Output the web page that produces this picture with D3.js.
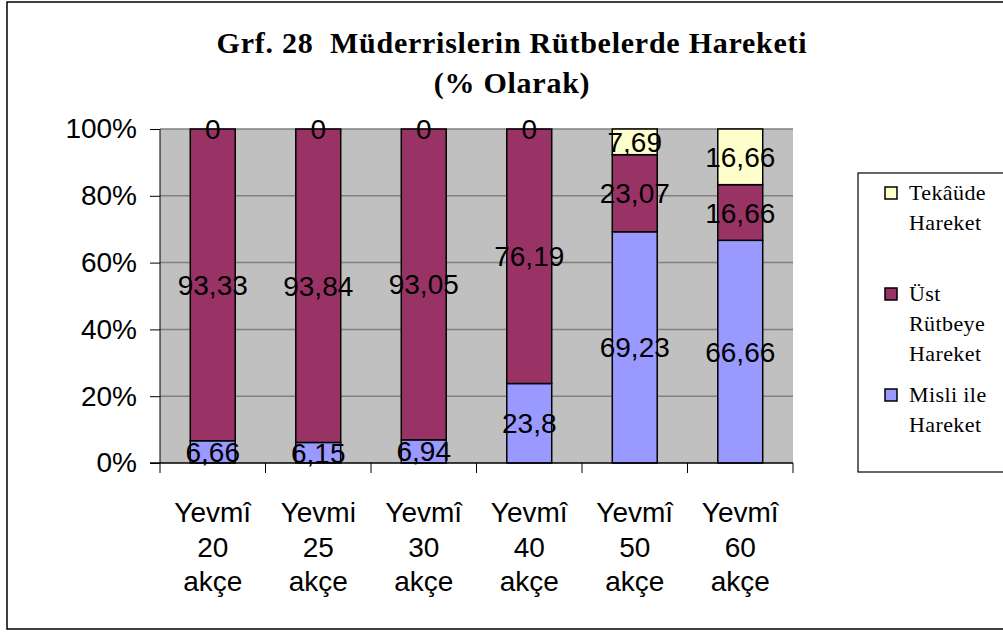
<!DOCTYPE html>
<html>
<head>
<meta charset="utf-8">
<script src="https://cdn.jsdelivr.net/npm/d3@7"></script>
<style>
  body { margin: 0; background: #fff; }
  svg { display: block; }
</style>
</head>
<body>
<script>
// data
const categories = ['Yevmî 20 akçe', 'Yevmi 25 akçe', 'Yevmî 30 akçe', 'Yevmî 40 akçe', 'Yevmî 50 akçe', 'Yevmî 60 akçe']
const misli = [6.66, 6.15, 6.94, 23.8, 69.23, 66.66]
const ust = [93.33, 93.84, 93.05, 76.19, 23.07, 16.66]
const tekaude = [0, 0, 0, 0, 7.69, 16.66]
const yTicks = [0, 20, 40, 60, 80, 100]

const seriesNames = ['Misli ile Hareket', 'Üst Rütbeye Hareket', 'Tekâüde Hareket']
const colors = ['#9999FF', '#993366', '#FFFFCC']

const WIDTH = 1003
const HEIGHT = 634
const PLOT = { left: 160, right: 793, top: 129, bottom: 463 }
const SANS = 'Liberation Sans, Arial, sans-serif'
const SERIF = 'Liberation Serif, Times New Roman, serif'

const svg = d3.select('body').append('svg').attr('width', WIDTH).attr('height', HEIGHT)

// cadre exterieur
svg.append('rect')
  .attr('x', 7).attr('y', 2).attr('width', 1010).attr('height', 627)
  .attr('fill', '#fff').attr('stroke', '#000').attr('stroke-width', 1.5)

// titre
const title = svg.append('text')
  .attr('text-anchor', 'middle')
  .attr('font-family', SERIF)
  .attr('font-weight', 'bold')
  .attr('font-size', 30)
  .attr('letter-spacing', 0.75)
  .style('white-space', 'pre')
title.append('tspan').attr('x', 512).attr('y', 53).text('Grf. 28  Müderrislerin Rütbelerde Hareketi')
title.append('tspan').attr('x', 512).attr('y', 93).text('(% Olarak)')

// table pour le stack (normalise a 100%)
const table = categories.map((c, i) => {
  const tot = misli[i] + ust[i] + tekaude[i]
  return { cat: c, vals: [misli[i], ust[i], tekaude[i]], m: misli[i] / tot * 100, u: ust[i] / tot * 100, t: tekaude[i] / tot * 100 }
})
const stacked = d3.stack().keys(['m', 'u', 't'])(table)

const x = d3.scaleBand().domain(categories).range([PLOT.left, PLOT.right]).paddingInner(0.574).paddingOuter(0.287)
const y = d3.scaleLinear().domain([0, 100]).range([PLOT.bottom, PLOT.top])

// fond gris
svg.append('rect')
  .attr('x', PLOT.left).attr('y', PLOT.top)
  .attr('width', PLOT.right - PLOT.left).attr('height', PLOT.bottom - PLOT.top)
  .attr('fill', '#C0C0C0')

// grille
svg.append('g').selectAll('line')
  .data(yTicks.filter(d => d > 0))
  .enter().append('line')
  .attr('x1', PLOT.left).attr('x2', PLOT.right)
  .attr('y1', d => y(d)).attr('y2', d => y(d))
  .attr('stroke', '#808080').attr('stroke-width', 1.5)

// batons
stacked.forEach((s, si) => {
  svg.append('g').selectAll('rect')
    .data(s)
    .enter().append('rect')
    .attr('x', d => x(d.data.cat))
    .attr('width', x.bandwidth())
    .attr('y', d => y(d[1]))
    .attr('height', d => y(d[0]) - y(d[1]))
    .attr('fill', colors[si])
    .attr('stroke', '#000')
    .attr('stroke-width', 1.5)
})

// etiquettes de valeur
stacked.forEach((s, si) => {
  svg.append('g').selectAll('text')
    .data(s)
    .enter().append('text')
    .attr('x', d => x(d.data.cat) + x.bandwidth() / 2)
    .attr('y', d => y((d[0] + d[1]) / 2))
    .attr('dy', '0.36em')
    .attr('text-anchor', 'middle')
    .attr('font-family', SANS)
    .attr('font-size', 28)
    .text(d => String(d.data.vals[si]).replace('.', ','))
})

// axe Y
const axisY = d3.axisLeft(y).tickValues(yTicks).tickFormat(d => d + '%').tickSize(10).tickPadding(13)
const gy = svg.append('g').attr('transform', `translate(${PLOT.left},0)`).call(axisY)
gy.selectAll('text').attr('font-family', SANS).attr('font-size', 28).attr('fill', '#000')
gy.selectAll('line').attr('stroke', '#000')
gy.select('.domain').attr('stroke', '#000').attr('d', `M0,${PLOT.top}V${PLOT.bottom}`)

// axe X
svg.append('line')
  .attr('x1', PLOT.left - 10).attr('x2', PLOT.right)
  .attr('y1', PLOT.bottom).attr('y2', PLOT.bottom)
  .attr('stroke', '#000').attr('stroke-width', 1.5)
const step = x.step()
svg.append('g').selectAll('line')
  .data(d3.range(categories.length + 1))
  .enter().append('line')
  .attr('x1', i => PLOT.left + i * step).attr('x2', i => PLOT.left + i * step)
  .attr('y1', PLOT.bottom).attr('y2', PLOT.bottom + 10)
  .attr('stroke', '#000')

const xl = svg.append('g').selectAll('text')
  .data(categories)
  .enter().append('text')
  .attr('text-anchor', 'middle')
  .attr('font-family', SANS)
  .attr('font-size', 28)
xl.each(function (d) {
  const cx = x(d) + x.bandwidth() / 2
  d.split(' ').forEach((w, k) => {
    d3.select(this).append('tspan').attr('x', cx).attr('y', 522 + k * 34.5).text(w)
  })
})

// legende
svg.append('rect')
  .attr('x', 858).attr('y', 173).attr('width', 160).attr('height', 299)
  .attr('fill', '#fff').attr('stroke', '#000').attr('stroke-width', 1.2)

const legendItems = [
  { idx: 2, lines: ['Tekâüde', 'Hareket'], y: 193 },
  { idx: 1, lines: ['Üst', 'Rütbeye', 'Hareket'], y: 294 },
  { idx: 0, lines: ['Misli ile', 'Hareket'], y: 395 }
]
const lg = svg.append('g').selectAll('g').data(legendItems).enter().append('g')
lg.append('rect')
  .attr('x', 885).attr('y', d => d.y - 6).attr('width', 12).attr('height', 12)
  .attr('fill', d => colors[d.idx]).attr('stroke', '#000').attr('stroke-width', 1.5)
lg.each(function (d) {
  const t = d3.select(this).append('text')
    .attr('font-family', SERIF)
    .attr('font-size', 22)
    .attr('letter-spacing', 0.4)
  d.lines.forEach((l, k) => {
    t.append('tspan').attr('x', 909).attr('y', d.y + 7 + k * 30).text(l)
  })
})
</script>
</body>
</html>
